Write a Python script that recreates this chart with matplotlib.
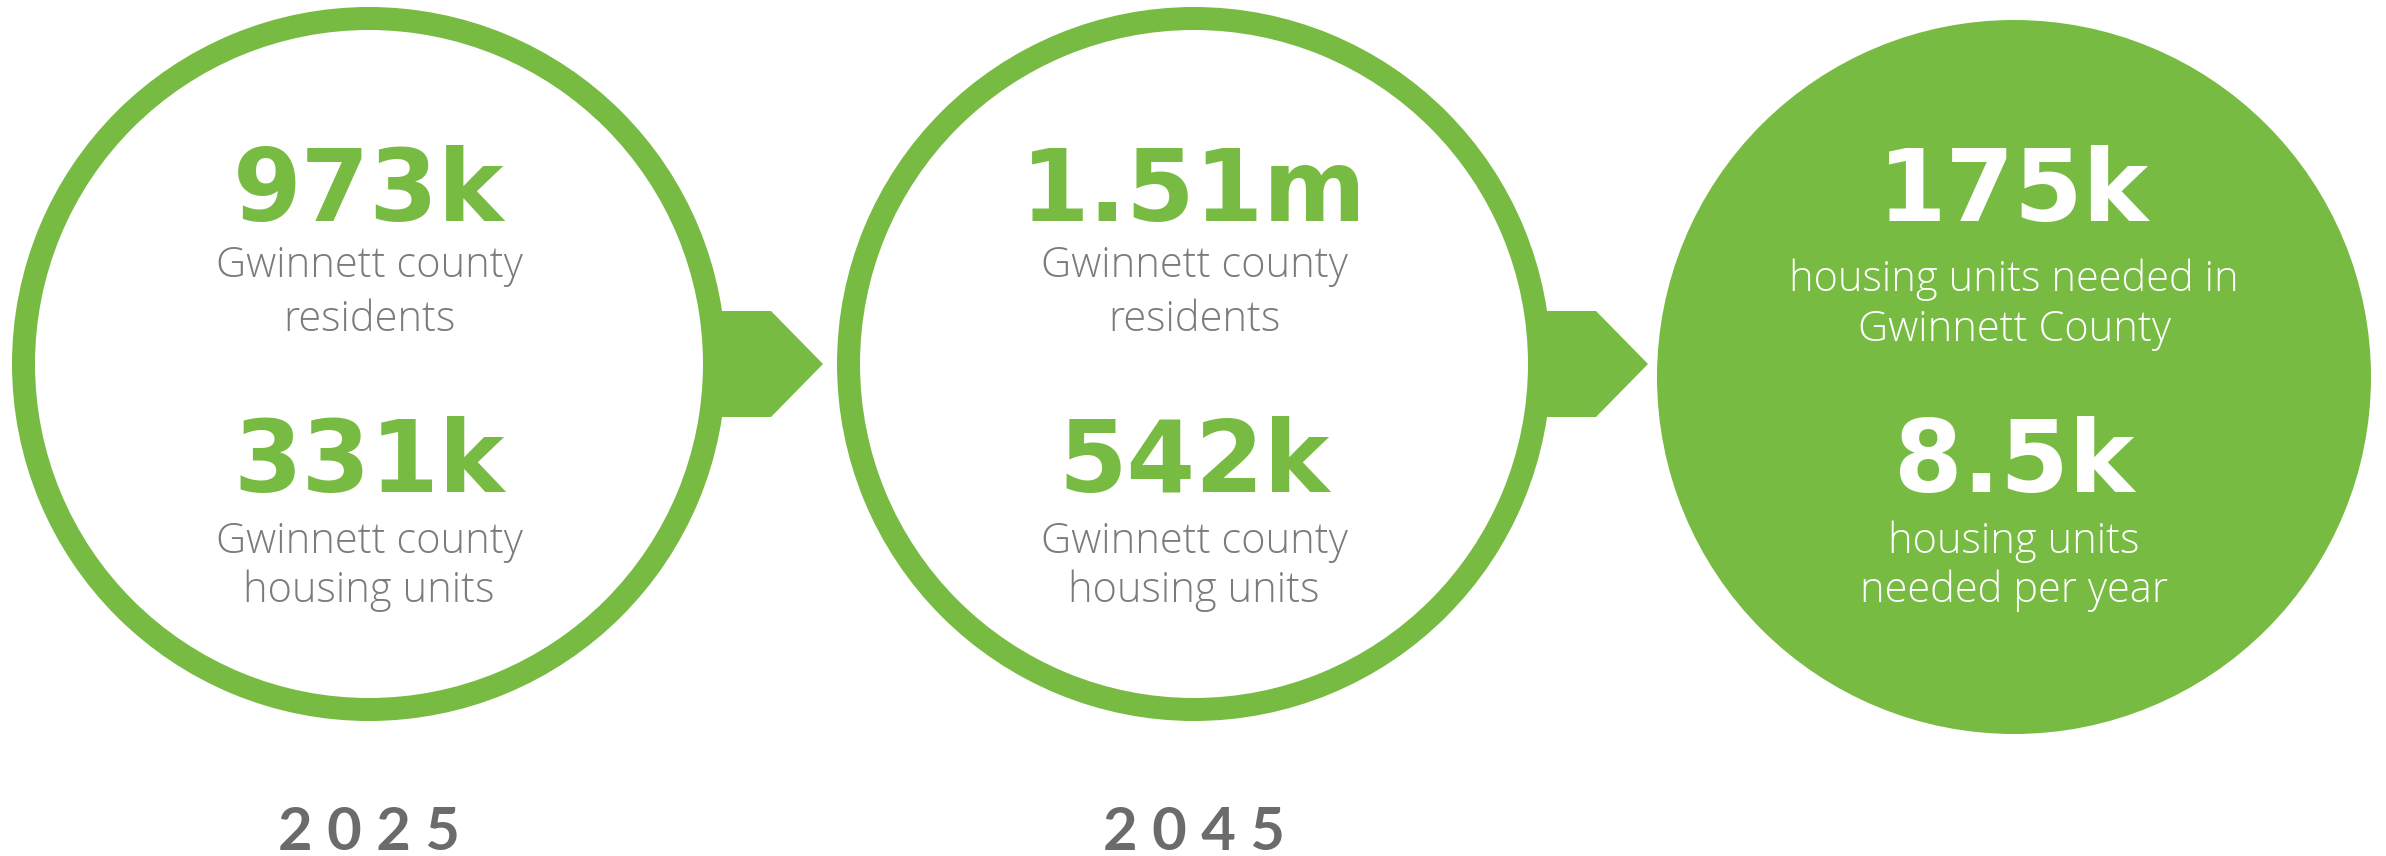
import matplotlib.pyplot as plt
from matplotlib.patches import Circle, Wedge, Polygon

# ---- contenu ----
top_values = ["973k", "1.51m", "175k"]
top_labels = [
    ["Gwinnett county", "residents"],
    ["Gwinnett county", "residents"],
    ["housing units needed in", "Gwinnett County"],
]
bottom_values = ["331k", "542k", "8.5k"]
bottom_labels = [
    ["Gwinnett county", "housing units"],
    ["Gwinnett county", "housing units"],
    ["housing units", "needed per year"],
]
years = ["2025", "2045", ""]
filled = [False, False, True]

# ---- mise en page (pixels) ----
W, H = 2386, 856
centres_x = [369, 1194, 2014]
centres_y = [364, 364, 377]
r_ext = 357
anneau = 23

VERT = "#77BB42"
GRIS = "#7b7b7b"
GRIS_ANNEE = "#6b6b6b"

fig = plt.figure(figsize=(W / 100, H / 100), dpi=100)
ax = fig.add_axes([0, 0, 1, 1])
ax.set_xlim(0, W)
ax.set_ylim(H, 0)
ax.set_aspect("equal")
ax.axis("off")

for i, (cx, cy) in enumerate(zip(centres_x, centres_y)):
    if filled[i]:
        ax.add_patch(Circle((cx, cy), r_ext, facecolor=VERT, edgecolor="none"))
    else:
        ax.add_patch(Wedge((cx, cy), r_ext, 0, 360, width=anneau,
                           facecolor=VERT, edgecolor="none"))

# flèches entre les cercles
for i in range(len(centres_x) - 1):
    cx, cy = centres_x[i], centres_y[i]
    x0 = cx + r_ext - anneau
    epaule = cx + r_ext + 45
    pointe = epaule + 52
    demi = 53
    ax.add_patch(Polygon(
        [(x0, cy - demi), (epaule, cy - demi), (pointe, cy),
         (epaule, cy + demi), (x0, cy + demi)],
        closed=True, facecolor=VERT, edgecolor="none"))

num_kw = dict(family="DejaVu Sans", fontweight="bold", fontsize=71,
              ha="center", va="baseline")
lab_kw = dict(family=["Open Sans", "DejaVu Sans"], fontweight="light",
              fontsize=30, ha="center", va="baseline")

for i, cx in enumerate(centres_x):
    c_num = "white" if filled[i] else VERT
    c_lab = "white" if filled[i] else GRIS
    lignes_haut = [291, 341] if filled[i] else [277, 331]
    lignes_bas = [553, 602]
    ax.text(cx, 221, top_values[i], color=c_num, **num_kw)
    for y, t in zip(lignes_haut, top_labels[i]):
        ax.text(cx, y, t, color=c_lab, **lab_kw)
    ax.text(cx, 492, bottom_values[i], color=c_num, **num_kw)
    for y, t in zip(lignes_bas, bottom_labels[i]):
        ax.text(cx, y, t, color=c_lab, **lab_kw)
    if years[i]:
        ax.text(cx, 850, " ".join(years[i]), color=GRIS_ANNEE,
                family=["Lato", "DejaVu Sans"], fontweight="bold",
                fontsize=43, ha="center", va="baseline")

fig.savefig("out.png", dpi=100, facecolor="white")
